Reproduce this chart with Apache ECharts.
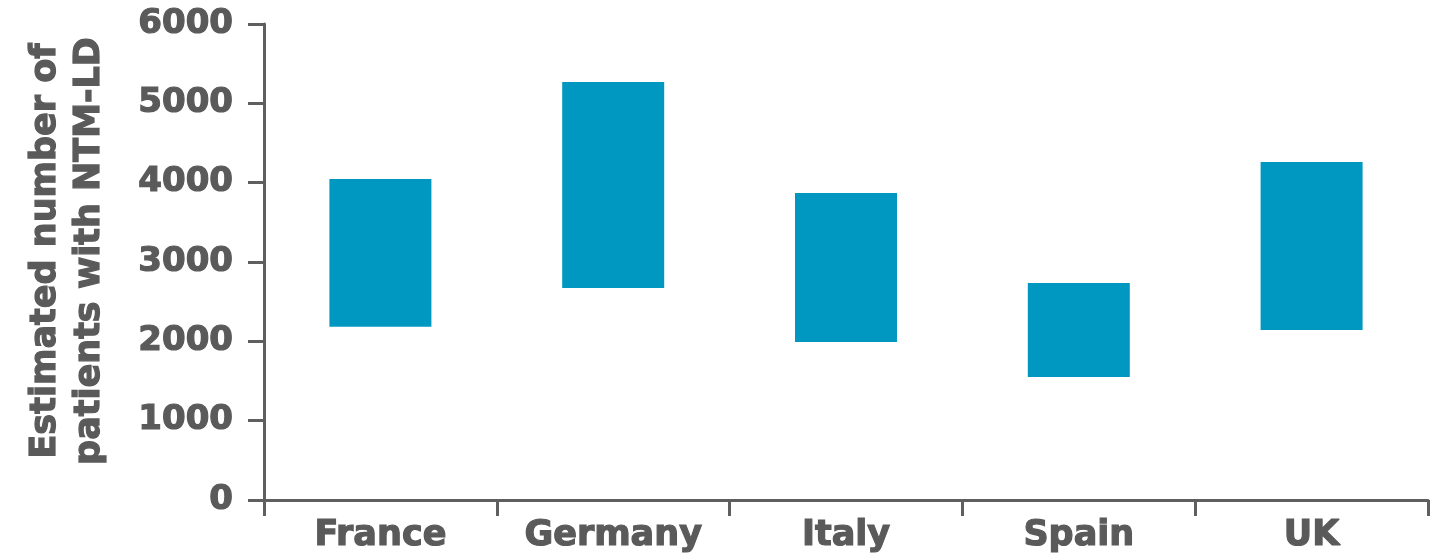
<!DOCTYPE html>
<html>
<head>
<meta charset="utf-8">
<script src="https://cdn.jsdelivr.net/npm/echarts@6/dist/echarts.min.js"></script>
<style>
html,body{margin:0;padding:0;background:#ffffff;}
#chart{width:1432px;height:560px;}
</style>
</head>
<body>
<div id="chart"></div>
<script>
const categories = ['France', 'Germany', 'Italy', 'Spain', 'UK'];
const lowValues = [2185, 2672, 1992, 1550, 2143];
const highValues = [4045, 5269, 3870, 2735, 4261];
const yTicks = { min: 0, max: 6000, interval: 1000 };
const yAxisTitle = 'Estimated number of\npatients with NTM-LD';

const rangeValues = highValues.map((h, i) => h - lowValues[i]);
const textColor = '#5a5a5a';
const axisColor = '#5f5f5f';
const fontFamily = '"DejaVu Sans", sans-serif';

const chart = echarts.init(document.getElementById('chart'), null, { renderer: 'canvas' });
chart.setOption({
  animation: false,
  backgroundColor: '#ffffff',
  grid: { left: 264, right: 4, top: 24, bottom: 60, containLabel: false },
  xAxis: {
    type: 'category',
    data: categories,
    axisLine: { show: true, lineStyle: { color: axisColor, width: 3 } },
    axisTick: { show: true, interval: 0, length: 16, lineStyle: { color: axisColor, width: 3 } },
    axisLabel: { interval: 0, color: textColor, fontFamily, fontWeight: 'bold', fontSize: 35, margin: 18,
                 hideOverlap: false, textBorderColor: textColor, textBorderWidth: 1.2 },
    splitLine: { show: false }
  },
  yAxis: {
    type: 'value',
    min: yTicks.min, max: yTicks.max, interval: yTicks.interval,
    name: yAxisTitle,
    nameLocation: 'middle',
    nameGap: 152,
    nameRotate: 90,
    nameTextStyle: { color: textColor, fontFamily, fontWeight: 'bold', fontSize: 35, lineHeight: 44,
                     padding: [0, 0, 0, 22], textBorderColor: textColor, textBorderWidth: 1.2 },
    axisLine: { show: true, lineStyle: { color: axisColor, width: 3 } },
    axisTick: { show: true, length: 16, lineStyle: { color: axisColor, width: 3 } },
    axisLabel: { color: textColor, fontFamily, fontWeight: 'bold', fontSize: 34, margin: 31,
                 formatter: (v) => String(v), textBorderColor: textColor, textBorderWidth: 1.2 },
    splitLine: { show: false }
  },
  series: [
    {
      type: 'bar', stack: 'range', data: lowValues,
      itemStyle: { color: 'transparent' }, barWidth: 102, silent: true
    },
    {
      type: 'bar', stack: 'range', data: rangeValues,
      itemStyle: { color: '#0098c0' }, barWidth: 102
    }
  ]
});
</script>
</body>
</html>
